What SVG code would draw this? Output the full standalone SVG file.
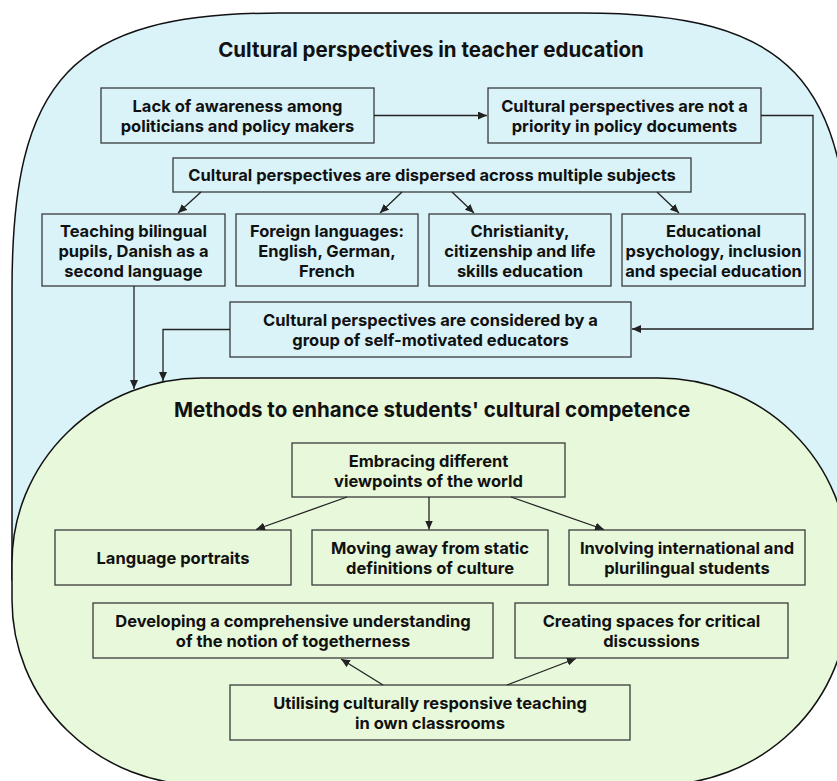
<svg xmlns="http://www.w3.org/2000/svg" width="837" height="781" viewBox="0 0 837 781">
<defs>
<marker id="ah" markerWidth="10" markerHeight="8" refX="9" refY="4" orient="auto" markerUnits="userSpaceOnUse">
<path d="M0,0 L9,4 L0,8 Z" fill="#222"/>
</marker>
<style>
.blob{stroke:#111;stroke-width:1.5}
.bb{fill:#daf3f9;stroke:#3a3a3a;stroke-width:1.3}
.gb{fill:#e8f8da;stroke:#3a3a3a;stroke-width:1.3}
.t{font-family:Inter,"Liberation Sans",sans-serif;font-size:16.5px;font-weight:700;fill:#111;text-anchor:middle}
.h{font-family:Inter,"Liberation Sans",sans-serif;font-size:20.5px;font-weight:700;fill:#111;text-anchor:middle}
.c{fill:none;stroke:#222;stroke-width:1.3;marker-end:url(#ah)}
</style>
</defs>
<rect width="837" height="781" fill="#ffffff"/>
<g id="outer-blue">
<path class="blob" fill="#daf3f9" d="M12 290 C12 80 70 13 280 13 L582 13 C792 13 850 80 850 290 L850 580 L12 580 Z"/>
<text class="h" x="431" y="57">Cultural perspectives in teacher education</text>
</g>
<g id="outer-green">
<rect class="blob" fill="#e8f8da" x="12" y="378" width="836" height="407" rx="190" ry="185"/>
<text class="h" x="432" y="417">Methods to enhance students' cultural competence</text>
</g>
<g id="n1"><rect class="bb" x="101" y="88" width="273" height="55"/><text class="t" x="237.5" y="112">Lack of awareness among</text><text class="t" x="237.5" y="132">politicians and policy makers</text></g>
<g id="n2"><rect class="bb" x="488" y="88" width="273" height="55"/><text class="t" x="624.5" y="112">Cultural perspectives are not a</text><text class="t" x="624.5" y="132">priority in policy documents</text></g>
<g id="n3"><rect class="bb" x="173" y="158" width="518" height="34"/><text class="t" x="432" y="181">Cultural perspectives are dispersed across multiple subjects</text></g>
<g id="n4"><rect class="bb" x="42" y="214" width="183" height="72"/><text class="t" x="133.5" y="237">Teaching bilingual</text><text class="t" x="133.5" y="257">pupils, Danish as a</text><text class="t" x="133.5" y="277">second language</text></g>
<g id="n5"><rect class="bb" x="236" y="214" width="182" height="72"/><text class="t" x="327" y="237">Foreign languages:</text><text class="t" x="327" y="257">English, German,</text><text class="t" x="327" y="277">French</text></g>
<g id="n6"><rect class="bb" x="429" y="214" width="182" height="72"/><text class="t" x="520" y="237">Christianity,</text><text class="t" x="520" y="257">citizenship and life</text><text class="t" x="520" y="277">skills education</text></g>
<g id="n7"><rect class="bb" x="622" y="214" width="183" height="72"/><text class="t" x="713.5" y="237">Educational</text><text class="t" x="713.5" y="257">psychology, inclusion</text><text class="t" x="713.5" y="277">and special education</text></g>
<g id="n8"><rect class="bb" x="230" y="302" width="401" height="55"/><text class="t" x="430.5" y="326">Cultural perspectives are considered by a</text><text class="t" x="430.5" y="346">group of self-motivated educators</text></g>
<g id="n9"><rect class="gb" x="292" y="443" width="273" height="54"/><text class="t" x="428.5" y="467">Embracing different</text><text class="t" x="428.5" y="487">viewpoints of the world</text></g>
<g id="n10"><rect class="gb" x="55" y="530" width="236" height="55"/><text class="t" x="173" y="564">Language portraits</text></g>
<g id="n11"><rect class="gb" x="312" y="530" width="236" height="55"/><text class="t" x="430" y="554">Moving away from static</text><text class="t" x="430" y="574">definitions of culture</text></g>
<g id="n12"><rect class="gb" x="569" y="530" width="236" height="55"/><text class="t" x="687" y="554">Involving international and</text><text class="t" x="687" y="574">plurilingual students</text></g>
<g id="n13"><rect class="gb" x="93" y="603" width="400" height="55"/><text class="t" x="293" y="627">Developing a comprehensive understanding</text><text class="t" x="293" y="647">of the notion of togetherness</text></g>
<g id="n14"><rect class="gb" x="515" y="603" width="273" height="55"/><text class="t" x="651.5" y="627">Creating spaces for critical</text><text class="t" x="651.5" y="647">discussions</text></g>
<g id="n15"><rect class="gb" x="230" y="685" width="400" height="55"/><text class="t" x="430" y="709">Utilising culturally responsive teaching</text><text class="t" x="430" y="729">in own classrooms</text></g>
<g id="connectors">
<path class="c" d="M374 115.5 L487 115.5"/>
<path class="c" d="M761 115.5 L813 115.5 L813 329 L632 329"/>
<path class="c" d="M201 192 L178 213"/>
<path class="c" d="M402 192 L380 213"/>
<path class="c" d="M452 192 L474 213"/>
<path class="c" d="M657 192 L679 213"/>
<path class="c" d="M134 286 L134 389"/>
<path class="c" d="M230 329.5 L163 329.5 L163 381"/>
<path class="c" d="M347 497 L256 529.5"/>
<path class="c" d="M429 497 L429 529.5"/>
<path class="c" d="M511 497 L604 529.5"/>
<path class="c" d="M383 685 L341 659"/>
<path class="c" d="M507 685 L576 658.5"/>
</g>
</svg>
